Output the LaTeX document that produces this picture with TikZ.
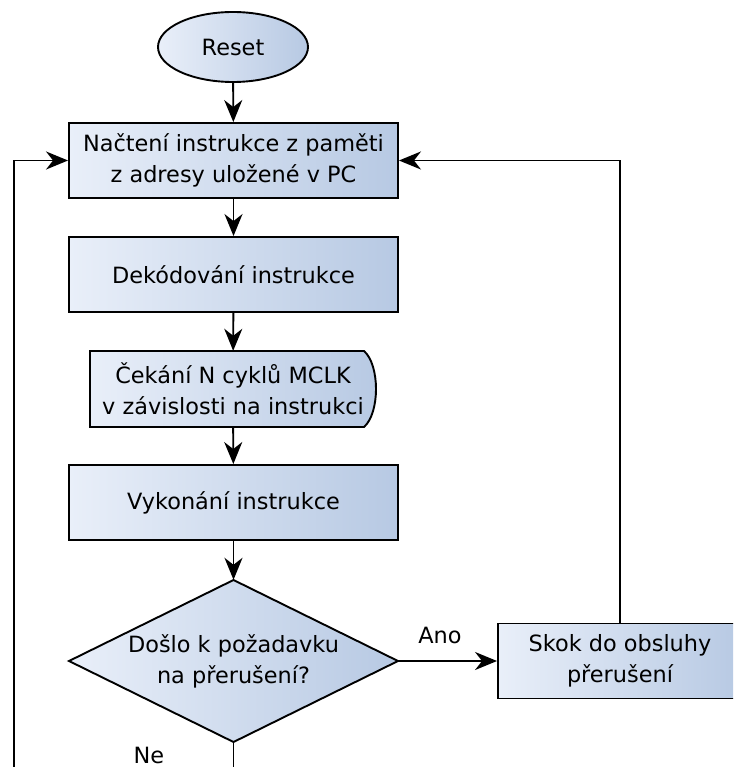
\documentclass[tikz,border=0pt]{standalone}
\usepackage{fontspec}
\setmainfont{DejaVu Sans}
\usetikzlibrary{arrows.meta,shapes.geometric}

\definecolor{fillL}{HTML}{E9EFF9}
\definecolor{fillR}{HTML}{B7C9E3}

\tikzset{
  every node/.style={font=\fontsize{22.4}{31}\selectfont, align=center, inner sep=0pt},
  shaded/.style={draw=black, line width=1.9pt, left color=fillL, right color=fillR},
  boxstyle/.style={shaded, rectangle, minimum width=329pt, minimum height=75pt},
  flow/.style={line width=1.9pt, -{Stealth[length=22pt, width=18pt, inset=7pt]}},
  plain/.style={line width=1.9pt},
}

\begin{document}
\begin{tikzpicture}[x=1pt, y=-1pt]
  \useasboundingbox (0,0) rectangle (733,767);
  \clip (0,0) rectangle (733,767);

  % start terminal
  \node[ellipse, shaded, minimum width=150pt, minimum height=70pt] (reset) at (233,47) {Reset};

  % processing steps
  \node[boxstyle] (fetch) at (233.5,160.5) {Načtení instrukce z paměti\\z adresy uložené v PC};
  \node[boxstyle] (decode) at (233.5,274.5) {Dekódování instrukce};

  % delay block
  \path[shaded]
    (90,351) -- (364,351) .. controls (380,365) and (380,413) .. (364,427) -- (90,427) -- cycle;
  \node[minimum width=288pt, minimum height=76pt] (wait) at (233,389)
    {Čekání N cyklů MCLK\\v závislosti na instrukci};

  \node[boxstyle] (exec) at (233.5,502.5) {Vykonání instrukce};

  % decision
  \path[shaded] (233.5,580) -- (398,661) -- (233.5,742) -- (69,661) -- cycle;
  \node[minimum width=329pt, minimum height=162pt] (irq) at (233.5,661)
        {Došlo k požadavku\\na přerušení?};

  % interrupt service
  \node[boxstyle, minimum width=244pt] (isr) at (620,661) {Skok do obsluhy\\přerušení};

  % loop-back points
  \coordinate (isrUp) at (620,160.5);
  \coordinate (neEnd) at (233.5,780);
  \coordinate (leftBottom) at (14,780);
  \coordinate (leftTop) at (14,160.5);

  % connectors
  \draw[flow] (reset) -- (fetch);
  \draw[flow] (fetch) -- (decode);
  \draw[flow] (decode) -- (wait);
  \draw[flow] (wait) -- (exec);
  \draw[flow] (exec) -- (irq.north);
  \draw[flow] (irq.east) -- (isr.west);
  \draw[flow] (isr.north) -- (isrUp) -- (fetch.east);
  \draw[plain] (irq.south) -- (neEnd);
  \draw[flow] (leftBottom) -- (leftTop) -- (fetch.west);

  % branch labels
  \node (ano) at (440,635) {Ano};
  \node (ne) at (149,755) {Ne};
\end{tikzpicture}
\end{document}
